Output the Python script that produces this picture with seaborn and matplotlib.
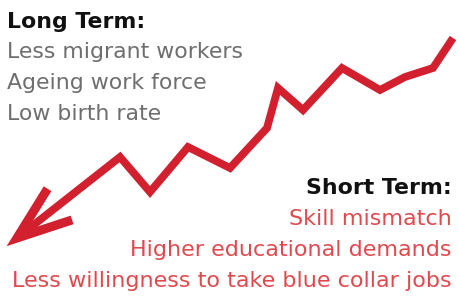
import numpy as np
import pandas as pd
import matplotlib
matplotlib.use("Agg")
import matplotlib.pyplot as plt
import seaborn as sns

# ---- data (trend line vertices) ----
step = [17, 120, 150, 188, 230, 267, 278, 303, 342, 380, 405, 433, 453]
value = [58, 139, 104, 149, 128, 168, 208, 186, 228, 206, 219, 228, 258]

long_title = "Long Term:"
long_items = ["Less migrant workers", "Ageing work force", "Low birth rate"]
short_title = "Short Term:"
short_items = ["Skill mismatch", "Higher educational demands",
               "Less willingness to take blue collar jobs"]

LINE_RED = "#d2202f"
TEXT_RED = "#e04a4f"
GRAY = "#6e6e6e"

sns.set_theme(style="white")
plt.rcParams["font.family"] = ["DejaVu Sans"]

fig = plt.figure(figsize=(4.59, 2.96), dpi=100)
ax = fig.add_axes([0, 0, 1, 1])
ax.set_xlim(0, 459)
ax.set_ylim(0, 296)
ax.axis("off")

df = pd.DataFrame({"step": step, "value": value})
sns.lineplot(data=df, x="step", y="value", sort=False, ax=ax,
             color=LINE_RED, lw=5.6, legend=False)
for l in ax.get_lines():
    l.set_solid_joinstyle("miter")
    l.set_solid_capstyle("butt")

# arrow head (open chevron) at the first point, oriented along first segment
tip = np.array([step[0], value[0]], float)
nxt = np.array([step[1], value[1]], float)
d = (nxt - tip) / np.linalg.norm(nxt - tip)
L = 58
ang = np.deg2rad(20)
def rot(v, a):
    return np.array([v[0]*np.cos(a) - v[1]*np.sin(a), v[0]*np.sin(a) + v[1]*np.cos(a)])
b1 = tip + L * rot(d, ang)
b2 = tip + L * rot(d, -ang)
ax.plot([b1[0], tip[0], b2[0]], [b1[1], tip[1], b2[1]], color=LINE_RED,
        lw=6.5, solid_joinstyle="miter", solid_capstyle="butt")

# text blocks
fs = 16.0
ax.text(7, 268, long_title, fontsize=fs - 0.2, fontweight="bold", color="#111111",
        ha="left", va="baseline")
for i, t in enumerate(long_items):
    ax.text(7, 238 - i * 31, t, fontsize=fs - 0.2, color=GRAY, ha="left", va="baseline")

ax.text(452, 102, short_title, fontsize=fs - 0.2, fontweight="bold", color="#111111",
        ha="right", va="baseline")
for i, t in enumerate(short_items):
    ax.text(452, 71 - i * 31, t, fontsize=fs, color=TEXT_RED, ha="right", va="baseline")

fig.savefig("out.png", dpi=100)
